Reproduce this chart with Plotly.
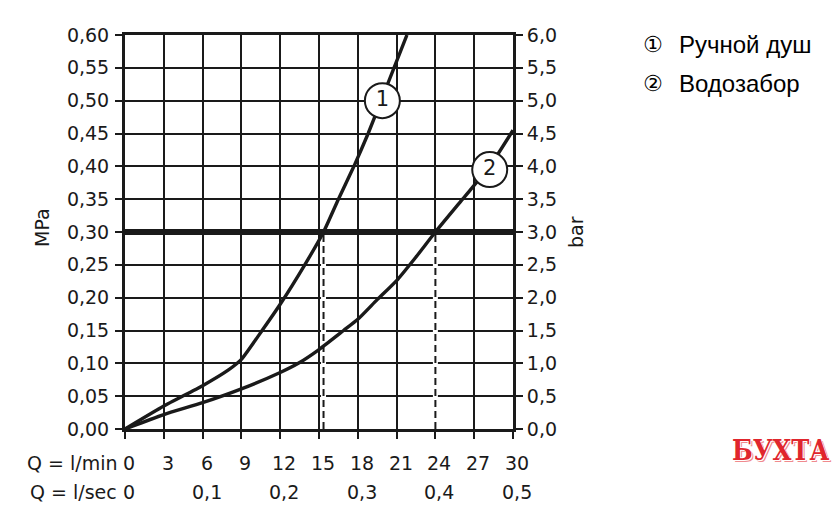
import plotly.graph_objects as go

# ---- data ----
flow_min_ticks = [0, 3, 6, 9, 12, 15, 18, 21, 24, 27, 30]
flow_min_labels = ["0", "3", "6", "9", "12", "15", "18", "21", "24", "27", "30"]
flow_sec_ticks = [0, 6, 12, 18, 24, 30]
flow_sec_labels = ["0", "0,1", "0,2", "0,3", "0,4", "0,5"]
mpa_ticks = [0, 0.05, 0.10, 0.15, 0.20, 0.25, 0.30, 0.35, 0.40, 0.45, 0.50, 0.55, 0.60]
mpa_labels = ["0,00", "0,05", "0,10", "0,15", "0,20", "0,25", "0,30", "0,35", "0,40", "0,45", "0,50", "0,55", "0,60"]
bar_ticks = [0, 0.5, 1.0, 1.5, 2.0, 2.5, 3.0, 3.5, 4.0, 4.5, 5.0, 5.5, 6.0]
bar_labels = ["0,0", "0,5", "1,0", "1,5", "2,0", "2,5", "3,0", "3,5", "4,0", "4,5", "5,0", "5,5", "6,0"]

hand_shower_x = [0, 3, 6, 8, 9, 10.6, 12, 13.9, 15.35, 16.5, 17.7, 18.8, 19.8, 20.8, 21.8]
hand_shower_y = [0, 0.035, 0.066, 0.09, 0.106, 0.15, 0.19, 0.25, 0.30, 0.35, 0.40, 0.45, 0.50, 0.55, 0.60]
spout_x = [0, 3, 6, 9, 12, 13.4, 15, 16.9, 18, 19.5, 21, 22.5, 24, 26.1, 28.2, 30]
spout_y = [0, 0.022, 0.040, 0.061, 0.086, 0.10, 0.121, 0.15, 0.167, 0.197, 0.226, 0.262, 0.30, 0.35, 0.40, 0.455]

ref_pressure = 0.30
ref_flows = [15.35, 24.0]
label_x = [19.9, 28.2]
label_y = [0.50, 0.395]
label_text = ["1", "2"]
legend_marks = ["①", "②"]
legend_names = ["Ручной душ", "Водозабор"]

INK = "#1a1a1a"
TICKFONT = dict(family="DejaVu Sans", size=19, color=INK)

fig = go.Figure()

# dashed reference drops
for fx in ref_flows:
    fig.add_trace(go.Scatter(x=[fx, fx], y=[0, ref_pressure], mode="lines",
                             line=dict(color="white", width=5), hoverinfo="skip", showlegend=False))
    fig.add_trace(go.Scatter(x=[fx, fx], y=[0, ref_pressure], mode="lines",
                             line=dict(color=INK, width=2, dash="7px,4px"), hoverinfo="skip", showlegend=False))

# thick reference line
fig.add_trace(go.Scatter(x=[0, 30], y=[ref_pressure, ref_pressure], mode="lines",
                         line=dict(color=INK, width=6), hoverinfo="skip", showlegend=False))

# curves
fig.add_trace(go.Scatter(x=hand_shower_x, y=hand_shower_y, mode="lines",
                         line=dict(color=INK, width=3.4, shape="spline", smoothing=0.5),
                         name=legend_names[0], showlegend=False))
fig.add_trace(go.Scatter(x=spout_x, y=spout_y, mode="lines",
                         line=dict(color=INK, width=3.4, shape="spline", smoothing=0.6),
                         name=legend_names[1], showlegend=False))

# circle labels
fig.add_trace(go.Scatter(x=label_x, y=label_y, mode="markers+text", text=label_text,
                         textposition="middle center",
                         textfont=dict(family="DejaVu Sans", size=21, color=INK),
                         marker=dict(size=35, color="white", line=dict(color=INK, width=2)),
                         hoverinfo="skip", showlegend=False, cliponaxis=False))

# invisible trace for right axis
fig.add_trace(go.Scatter(x=[0], y=[0], yaxis="y2", mode="markers",
                         marker=dict(opacity=0), hoverinfo="skip", showlegend=False))

L, R, T, B = 125, 327, 35, 99
W, H = 840, 528
pw, ph = W - L - R, H - T - B

def px_x(p):
    return (p - L) / pw

def px_y(p):
    return (H - B - p) / ph

annotations = []
# bottom rows
for v, t in zip(flow_min_ticks, flow_min_labels):
    annotations.append(dict(x=v, y=px_y(463), xref="x", yref="paper", text=t, showarrow=False,
                            xshift=4, font=TICKFONT, xanchor="center", yanchor="middle"))
for v, t in zip(flow_sec_ticks, flow_sec_labels):
    annotations.append(dict(x=v, y=px_y(492), xref="x", yref="paper", text=t, showarrow=False,
                            xshift=4, font=TICKFONT, xanchor="center", yanchor="middle"))
annotations.append(dict(x=px_x(119), y=px_y(463), xref="paper", yref="paper", text="Q = l/min",
                        showarrow=False, font=TICKFONT, xanchor="right", yanchor="middle"))
annotations.append(dict(x=px_x(119), y=px_y(492), xref="paper", yref="paper", text="Q = l/sec",
                        showarrow=False, font=TICKFONT, xanchor="right", yanchor="middle"))
# axis titles
annotations.append(dict(x=px_x(42), y=px_y(228), xref="paper", yref="paper", text="MPa",
                        textangle=-90, showarrow=False, font=TICKFONT, xanchor="center", yanchor="middle"))
annotations.append(dict(x=px_x(576), y=px_y(232), xref="paper", yref="paper", text="bar",
                        textangle=-90, showarrow=False, font=TICKFONT, xanchor="center", yanchor="middle"))
# legend
LEGFONT = dict(family="Liberation Sans, Arial", size=24, color="black")
for i, (m, n) in enumerate(zip(legend_marks, legend_names)):
    yy = 45 + i * 38
    annotations.append(dict(x=px_x(641), y=px_y(yy), xref="paper", yref="paper", text=m,
                            showarrow=False, font=dict(family="DejaVu Sans", size=22, color="black"),
                            xanchor="left", yanchor="middle"))
    annotations.append(dict(x=px_x(677), y=px_y(yy), xref="paper", yref="paper", text=n,
                            showarrow=False, font=LEGFONT, xanchor="left", yanchor="middle"))
# watermark
annotations.append(dict(x=px_x(780), y=px_y(450), xref="paper", yref="paper", text="<b>БУХТА</b>",
                        showarrow=False,
                        font=dict(family="DejaVu Serif Condensed, DejaVu Serif", size=27, color="#e0262d",
                                  shadow="1px 1px 0 #fff, -1px -1px 0 #fff, 2px 2px 0 #f08a8e"),
                        xanchor="center", yanchor="middle"))

fig.update_layout(
    width=W, height=H,
    margin=dict(l=L, r=R, t=T, b=B),
    paper_bgcolor="white", plot_bgcolor="white",
    showlegend=False,
    xaxis=dict(range=[0, 30], tickvals=flow_min_ticks, showticklabels=False,
               ticks="outside", ticklen=7, tickwidth=2, tickcolor=INK,
               showgrid=True, gridcolor=INK, gridwidth=2,
               showline=True, linecolor=INK, linewidth=3, mirror=True, zeroline=False, fixedrange=True),
    yaxis=dict(range=[0, 0.6], tickvals=mpa_ticks, ticktext=mpa_labels, tickfont=TICKFONT,
               ticks="outside", ticklen=7, tickwidth=2, tickcolor=INK, ticklabelstandoff=2,
               showgrid=True, gridcolor=INK, gridwidth=2,
               showline=True, linecolor=INK, linewidth=3, mirror=True, zeroline=False, fixedrange=True),
    yaxis2=dict(range=[0, 6], overlaying="y", side="right", tickvals=bar_ticks, ticktext=bar_labels,
                tickfont=TICKFONT, ticks="outside", ticklen=7, tickwidth=2, tickcolor=INK,
                showgrid=False, showline=True, linecolor=INK, linewidth=3, zeroline=False, fixedrange=True),
    annotations=annotations,
)

fig.write_html("out.html", config={"displayModeBar": False},
               post_script="document.body.style.margin='0px';")
